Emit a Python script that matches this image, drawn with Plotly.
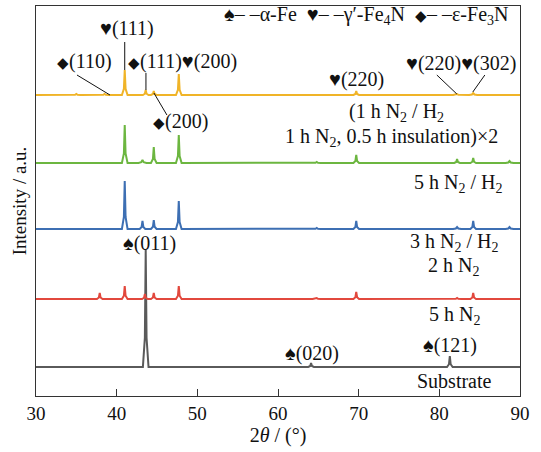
import plotly.graph_objects as go

# ---- data ----
series_names = ["Substrate", "5 h N2", "3 h N2/H2 + 2 h N2", "5 h N2/H2", "(1 h N2/H2 + 1 h N2 0.5 h ins.)x2"]
series_colors = ["#5a5a5a", "#e2483d", "#3d6fb3", "#6cb640", "#f0b428"]
offsets = [29, 97, 167, 233, 301]

# peak positions (2theta, deg) and heights (a.u.) for each pattern
sub_pos = [43.6, 64.1, 81.3]
sub_h = [117, 4, 11]

n5_pos = [37.9, 41.0, 43.5, 44.6, 47.7, 64.8, 69.7, 82.2, 84.2]
n5_h = [6, 13, 5, 6, 13, 1, 7, 1, 6]

nh_pos = [41.0, 43.2, 44.6, 47.7, 64.8, 69.7, 82.2, 84.2, 88.7]
nh_h = [48, 8, 9, 28, 1, 8, 2, 8, 2]

cy_pos = [41.0, 43.2, 44.6, 47.7, 64.8, 69.7, 82.2, 84.2, 88.7]
cy_h = [38, 3, 16, 28, 1, 8, 4, 5, 2]

y_pos = [35.0, 38.5, 41.0, 43.6, 44.6, 47.7, 69.7, 82.2, 84.2]
y_h = [1, 1, 25, 5, 4, 21, 4, 1, 2]

peak_sets = [(sub_pos, sub_h), (n5_pos, n5_h), (nh_pos, nh_h), (cy_pos, cy_h), (y_pos, y_h)]
x_ticks = [30, 40, 50, 60, 70, 80, 90]

FONT = "Liberation Serif, serif"

def profile(pos, h, off):
    xs, ys = [30.0], [off]
    for p, hh in sorted(zip(pos, h)):
        w = 0.35 if hh > 3 else 0.5
        xs += [p - w, p - w * 0.3, p, p + w * 0.3, p + w]
        ys += [off, off + hh * 0.25, off + hh, off + hh * 0.25, off]
    xs.append(90.0)
    ys.append(off)
    return xs, ys

fig = go.Figure()
for (pos, h), off, col, nm in zip(peak_sets, offsets, series_colors, series_names):
    xs, ys = profile(pos, h, off)
    fig.add_trace(go.Scatter(x=xs, y=ys, mode="lines", name=nm,
                             line=dict(color=col, width=2), showlegend=False))

fs = 20
SP = '<span style="font-size:20px">♠</span>'
HT = '<span style="font-size:20px">♥</span>'
DI = '<span style="font-size:15px">◆</span>'
DASH = "– –"

def ann(x, y, text, xanchor="center"):
    fig.add_annotation(x=x, y=y, text=text, showarrow=False, xanchor=xanchor,
                       yanchor="middle", font=dict(family=FONT, size=fs, color="#111"))

ann(88.8, 381, f"{SP}{DASH}α-Fe  {HT}{DASH}γ′-Fe<sub>4</sub>N  {DI}{DASH}ε-Fe<sub>3</sub>N", xanchor="right")
ann(41.3, 368, f"{HT}(111)")
ann(35.95, 335, f"{DI}(110)")
ann(48.2, 335, f"{DI}(111){HT}(200)")
ann(47.97, 275, f"{DI}(200)")
ann(69.78, 317, f"{HT}(220)")
ann(82.73, 333, f"{HT}(220){HT}(302)")
ann(74.7, 284, "(1 h N<sub>2</sub> / H<sub>2</sub>")
ann(74.05, 259, "1 h N<sub>2</sub>, 0.5 h insulation)×2")
ann(82.3, 213, "5 h N<sub>2</sub> / H<sub>2</sub>")
ann(81.8, 154, "3 h N<sub>2</sub> / H<sub>2</sub>")
ann(81.7, 130, "2 h N<sub>2</sub>")
ann(81.9, 81, "5 h N<sub>2</sub>")
ann(81.9, 15, "Substrate")
ann(44.1, 153, f"{SP}(011)")
ann(64.2, 43, f"{SP}(020)")
ann(81.3, 51, f"{SP}(121)")

leaders = [
    (41.0, 354, 41.0, 326),
    (35.08, 321, 39.17, 301),
    (43.63, 323, 43.63, 306),
    (44.62, 303, 46.23, 281),
    (79.69, 321, 82.17, 302),
    (85.64, 321, 84.15, 304),
]
for x0, y0, x1, y1 in leaders:
    fig.add_shape(type="line", x0=x0, y0=y0, x1=x1, y1=y1, xref="x", yref="y",
                  line=dict(color="#111", width=1))

fig.update_layout(
    width=541, height=452,
    margin=dict(l=36, r=21, t=6, b=56),
    paper_bgcolor="white", plot_bgcolor="white",
    font=dict(family=FONT, size=fs, color="#111"),
    xaxis=dict(range=[30, 90], tickvals=x_ticks, ticks="inside", ticklen=7,
               tickcolor="#333", showline=True, linecolor="#333", linewidth=1.2,
               mirror=True, showgrid=False, zeroline=False,
               title=dict(text="2<i>θ</i> / (°)", standoff=4, font=dict(family=FONT, size=20)),
               tickfont=dict(family=FONT, size=19)),
    yaxis=dict(range=[0, 390], showticklabels=False, ticks="", showline=True,
               linecolor="#333", linewidth=1.2, mirror=True, showgrid=False,
               zeroline=False,
               title=dict(text="Intensity / a.u.", standoff=3, font=dict(family=FONT, size=19))),
)

fig.write_html("out.html")
